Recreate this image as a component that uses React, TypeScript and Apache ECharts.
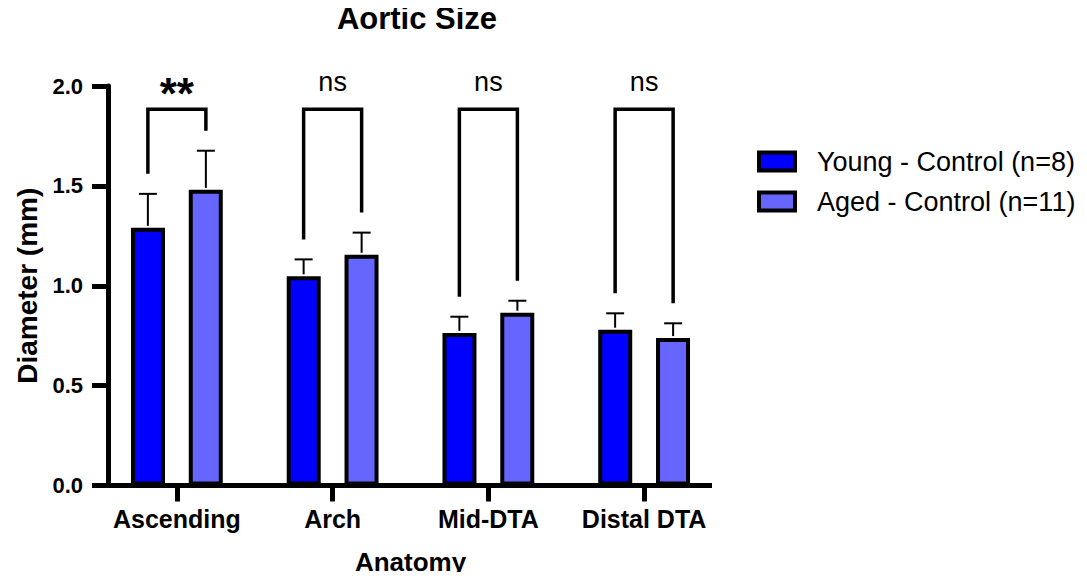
import React, { useEffect, useRef } from "react";
import * as echarts from "echarts";

const categories = ["Ascending", "Arch", "Mid-DTA", "Distal DTA"];
const seriesNames = ["Young - Control (n=8)", "Aged - Control (n=11)"];
const youngMean = [1.29, 1.047, 0.764, 0.78];
const youngUpper = [1.46, 1.132, 0.845, 0.862];
const agedMean = [1.48, 1.155, 0.865, 0.738];
const agedUpper = [1.676, 1.266, 0.925, 0.812];
const sigLabels = ["**", "ns", "ns", "ns"];
const bracketLevel = [1.883, 1.883, 1.883, 1.883];
const yTicks = [0, 0.5, 1.0, 1.5, 2.0];

const FONT = "'Liberation Sans', Arial, Helvetica, sans-serif";
const BAR_W = 34;
const HALF_SEP = 29;

export default function App() {
  const ref = useRef<HTMLDivElement>(null);
  useEffect(() => {
    if (!ref.current) return;
    const chart = echarts.init(ref.current, undefined, { renderer: "svg" });

    const errData: any[] = [];
    categories.forEach((_, i) => {
      errData.push([i, youngMean[i], youngUpper[i], -1]);
      errData.push([i, agedMean[i], agedUpper[i], 1]);
    });
    const bracketData = categories.map((_, i) => [i, youngUpper[i], agedUpper[i], bracketLevel[i], sigLabels[i]]);

    chart.setOption({
      animation: false,
      title: {
        text: "Aortic Size",
        left: 412,
        top: -2,
        textAlign: "center",
        textStyle: { fontFamily: FONT, fontWeight: "bold", fontSize: 31, color: "#000" },
      },
      legend: {
        orient: "vertical",
        left: 752,
        top: 143,
        icon: "rect",
        itemWidth: 36,
        itemHeight: 18,
        itemGap: 13,
        data: seriesNames,
        itemStyle: { borderColor: "#000", borderWidth: 4 },
        textStyle: { fontFamily: FONT, fontSize: 27, color: "#000", padding: [0, 0, 0, 17] },
      },
      grid: { left: 99, right: 365, top: 86, bottom: 94.5, outerBoundsMode: "none", containLabel: false },
      xAxis: {
        type: "category",
        data: categories,
        axisLine: { show: false },
        axisTick: { show: true, interval: 0, alignWithLabel: true, length: 16, lineStyle: { color: "#000", width: 5 } },
        axisLabel: { interval: 0, fontFamily: FONT, fontWeight: "bold", fontSize: 25, color: "#000", margin: 21 },
        name: "Anatomy",
        nameLocation: "middle",
        nameGap: 63,
        nameTextStyle: { fontFamily: FONT, fontWeight: "bold", fontSize: 26, color: "#000" },
      },
      yAxis: {
        type: "value",
        min: 0,
        max: 2,
        interval: 0.5,
        offset: -9,
        splitLine: { show: false },
        axisLine: { show: true, lineStyle: { color: "#000", width: 5 } },
        axisTick: { show: true, length: 16, lineStyle: { color: "#000", width: 5 } },
        axisLabel: {
          fontFamily: FONT,
          fontWeight: "bold",
          fontSize: 22,
          color: "#000",
          margin: 25,
          formatter: (v: number) => (yTicks.includes(v) ? v.toFixed(1) : ""),
        },
        name: "Diameter (mm)",
        nameLocation: "middle",
        nameGap: 67,
        nameTextStyle: { fontFamily: FONT, fontWeight: "bold", fontSize: 28, color: "#000" },
      },
      graphic: [
        {
          type: "line",
          shape: { x1: 106, y1: 485.5, x2: 712, y2: 485.5 },
          style: { stroke: "#000", lineWidth: 5 },
          z: 10,
        },
      ],
      series: [
        {
          name: seriesNames[0],
          type: "bar",
          data: youngMean,
          barWidth: BAR_W,
          barGap: "70%",
          itemStyle: { color: "#0000ff", borderColor: "#000", borderWidth: 4 },
        },
        {
          name: seriesNames[1],
          type: "bar",
          data: agedMean,
          barWidth: BAR_W,
          barGap: "70%",
          itemStyle: { color: "#6666ff", borderColor: "#000", borderWidth: 4 },
        },
        {
          type: "custom",
          data: errData,
          z: 5,
          renderItem: (params: any, api: any) => {
            const cat = api.value(0);
            const side = api.value(3);
            const base = api.coord([cat, api.value(1)]);
            const top = api.coord([cat, api.value(2)]);
            const x = base[0] + side * HALF_SEP;
            return {
              type: "group",
              children: [
                { type: "line", shape: { x1: x, y1: base[1] - 2, x2: x, y2: top[1] }, style: { stroke: "#000", lineWidth: 2 } },
                { type: "line", shape: { x1: x - 9, y1: top[1], x2: x + 9, y2: top[1] }, style: { stroke: "#000", lineWidth: 2 } },
              ],
            };
          },
        },
        {
          type: "custom",
          data: bracketData,
          z: 5,
          renderItem: (params: any, api: any) => {
            const cat = api.value(0);
            const yl = api.coord([cat, api.value(1)])[1] - 20;
            const yr = api.coord([cat, api.value(2)])[1] - 20;
            const pb = api.coord([cat, api.value(3)]);
            const xc = pb[0];
            const xl = xc - HALF_SEP;
            const xr = xc + HALF_SEP;
            const label = bracketData[params.dataIndex][4];
            const isStar = label === "**";
            return {
              type: "group",
              children: [
                {
                  type: "polyline",
                  shape: { points: [[xl, yl], [xl, pb[1]], [xr, pb[1]], [xr, yr]] },
                  style: { stroke: "#000", lineWidth: 3.5, fill: null },
                },
                {
                  type: "text",
                  x: xc,
                  y: isStar ? pb[1] - 16 : pb[1] - 27,
                  style: {
                    text: label,
                    fontFamily: FONT,
                    fontWeight: isStar ? "bold" : "normal",
                    fontSize: isStar ? 44 : 27,
                    fill: "#000",
                    align: "center",
                    verticalAlign: "middle",
                  },
                },
              ],
            };
          },
        },
      ],
    });
    return () => chart.dispose();
  }, []);
  return <div ref={ref} style={{ width: 1087, height: 580, margin: -8 }} />;
}
